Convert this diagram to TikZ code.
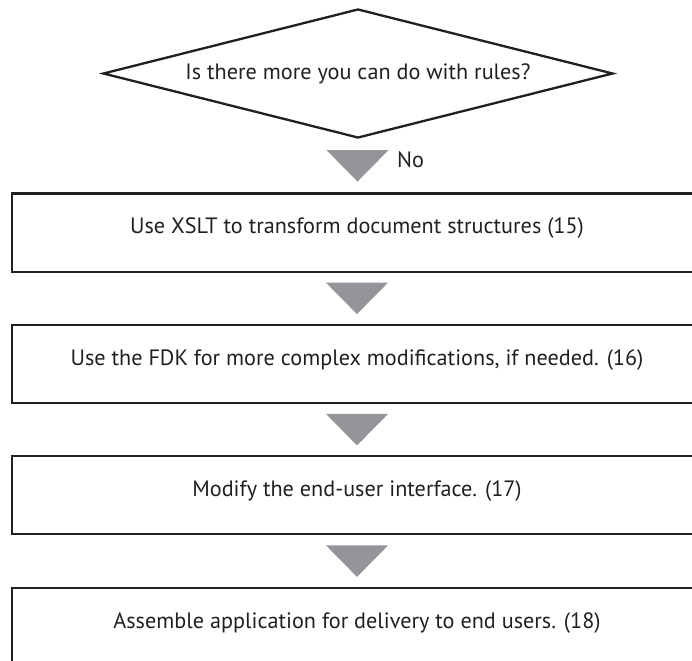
\documentclass[tikz,border=0pt]{standalone}
\usepackage{fontspec}
\setmainfont{PT Sans}
\usetikzlibrary{shapes.geometric,calc}
\definecolor{ink}{HTML}{231F20}
\definecolor{arrowgray}{HTML}{939598}
\tikzset{
  stepbox/.style={draw=ink, line width=2.3pt, rectangle, inner sep=0pt,
    minimum width=690pt, text height=40pt, text depth=38pt, anchor=north, text=ink},
  decision/.style={draw=ink, line width=2.3pt, diamond, aspect=4,
    minimum width=510pt, minimum height=129pt, inner sep=0pt, text=ink},
  downarrow/.pic={\fill[arrowgray] (-31,-15.7) -- (31,-15.7) -- (0,15.7) -- cycle;}
}
\begin{document}
\begin{tikzpicture}[x=1pt,y=-1pt,font=\fontsize{22.2}{26}\selectfont]
\useasboundingbox (0,0) rectangle (692,660);
\node[decision] (dec) at (358,73.5) {Is there more you can do with rules?};
\node[stepbox] (b1) at (357,192.5) {Use XSLT to transform document structures (15)};
\node[stepbox] (b2) at (357,324) {Use the FDK for more complex modifications, if needed. (16)};
\node[stepbox] (b3) at (357,455) {Modify the end-user interface. (17)};
\node[stepbox] (b4) at (357,587) {Assemble application for delivery to end users. (18)};
\path (dec.south) -- (b1.north) coordinate[midway] (m1);
\path (b1.south) -- (b2.north) coordinate[midway] (m2);
\path (b2.south) -- (b3.north) coordinate[midway] (m3);
\path (b3.south) -- (b4.north) coordinate[midway] (m4);
\pic at (m1) {downarrow};
\pic at (m2) {downarrow};
\pic at (m3) {downarrow};
\pic at (m4) {downarrow};
\node[text=ink, anchor=base west, inner sep=0pt] (no) at (397,167.3) {No};
\end{tikzpicture}
\end{document}
